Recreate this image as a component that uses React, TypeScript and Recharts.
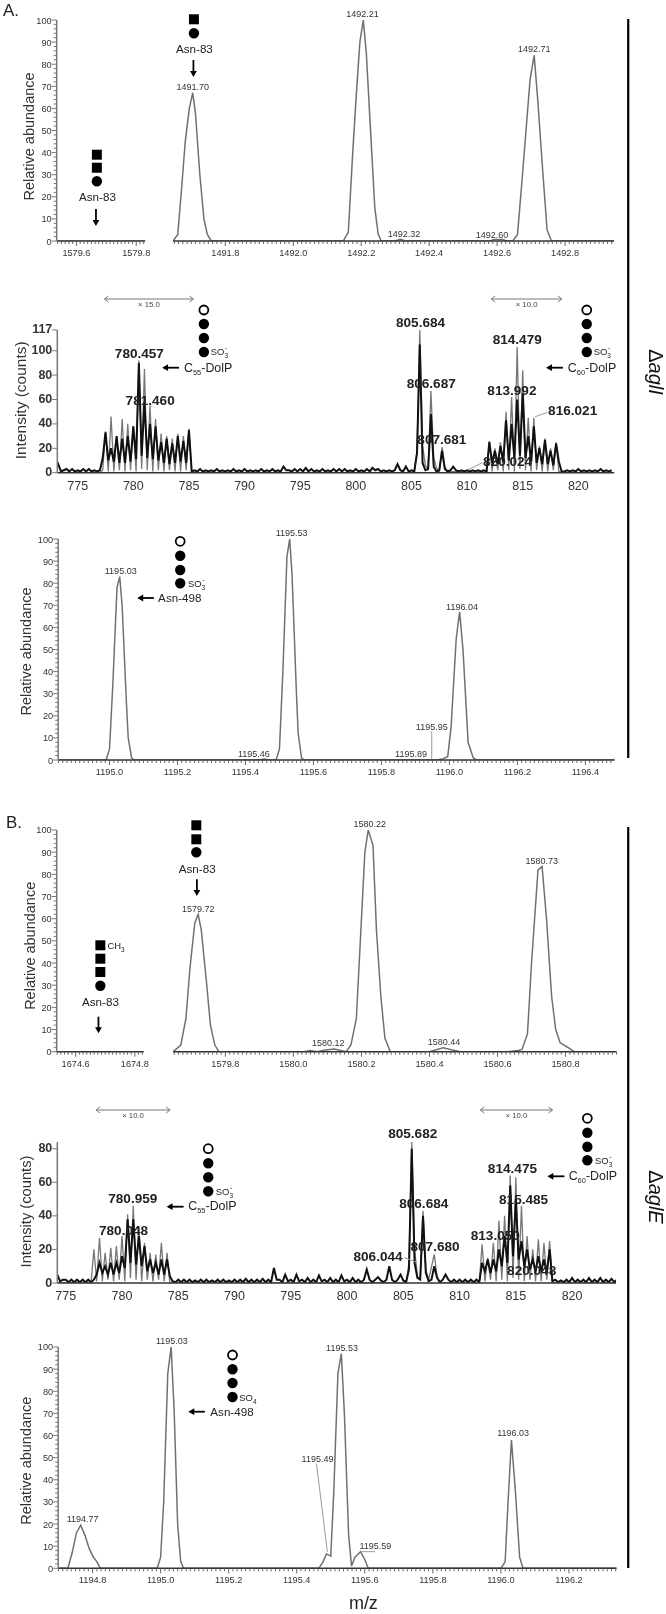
import React from "react";
import { LineChart, Line, XAxis, YAxis, ReferenceDot, ReferenceLine } from "recharts";

const FONT = "'Liberation Sans', Arial, sans-serif";

// panel A, top: glycopeptide isotope envelope
const a1EmptyMz = [1579.53, 1579.83];
const a1EmptyAb = [0, 0];
const a1Mz = [1491.646, 1491.66, 1491.672, 1491.682, 1491.694, 1491.704, 1491.712, 1491.725, 1491.737, 1491.747, 1491.759, 1492.147, 1492.162, 1492.175, 1492.185, 1492.196, 1492.206, 1492.215, 1492.231, 1492.24, 1492.25, 1492.259, 1492.3, 1492.315, 1492.33, 1492.58, 1492.59, 1492.615, 1492.63, 1492.646, 1492.66, 1492.672, 1492.685, 1492.697, 1492.709, 1492.719, 1492.735, 1492.747, 1492.76, 1492.944];
const a1Ab = [0, 3, 25, 45, 60, 67, 58, 30, 10, 3, 0, 0, 4, 40, 65, 90, 100, 85, 40, 15, 3, 0, 0, 0.8, 0, 0, 0.7, 0.7, 0, 0, 3, 25, 50, 73, 84, 65, 30, 5, 0, 0];
const a1Tags = ["1491.70", "1492.21", "1492.71", "1492.32", "1492.60"];
const a1TagMz = [1491.704, 1492.21, 1492.709, 1492.32, 1492.6];
const a1TagAb = [67, 100, 84, 0.8, 0.7];

// panel A, middle: intensity on a 0.25 m/z grid from 773
const a2Black = [
  3, 7, 1, 2, 3, 1, 3, 1, 2, 1, 3, 1, 3, 1, 2, 1, 2, 12, 33, 10,
  20, 9, 30, 8, 28, 8, 30, 9, 38, 11, 90, 14, 58, 12, 40, 11, 38, 10, 25, 8,
  28, 7, 24, 8, 30, 9, 26, 8, 35, 1, 2, 1, 3, 1, 2, 1, 2, 1, 3, 1,
  2, 1, 2, 1, 3, 1, 2, 1, 3, 1, 2, 1, 2, 1, 3, 1, 2, 1, 3, 1,
  2, 1, 5, 2, 2, 1, 3, 1, 3, 1, 4, 1, 3, 1, 2, 1, 3, 1, 2, 1,
  3, 1, 3, 1, 3, 1, 2, 1, 3, 1, 2, 1, 3, 1, 4, 2, 3, 1, 2, 1,
  2, 1, 2, 7, 2, 1, 5, 1, 2, 1, 16, 105, 8, 2, 3, 48, 5, 1, 2, 18,
  3, 1, 2, 5, 2, 1, 2, 1, 2, 1, 2, 1, 2, 1, 2, 1, 25, 8, 18, 7,
  22, 9, 43, 10, 40, 12, 60, 14, 65, 12, 30, 9, 38, 8, 20, 7, 27, 7, 18, 6,
  24, 9, 1, 1, 2, 1, 2, 1, 3, 1, 2, 1, 2, 1, 2, 1, 3, 1, 2, 1, 2,
];
const a2GrayMz = [773, 777, 777.25, 777.5, 777.75, 778, 778.25, 778.5, 778.75, 779, 779.25, 779.5, 779.75, 780, 780.25, 780.5, 780.75, 781, 781.25, 781.5, 781.75, 782, 782.25, 782.5, 782.75, 783, 783.25, 783.5, 783.75, 784, 784.25, 784.5, 784.75, 785, 785.25, 805.25, 805.5, 805.75, 806, 806.25, 806.5, 806.75, 807, 807.25, 807.5, 807.75, 808, 808.25, 811.75, 812, 812.25, 812.5, 812.75, 813, 813.25, 813.5, 813.75, 814, 814.25, 814.5, 814.75, 815, 815.25, 815.5, 815.75, 816, 816.25, 816.5, 816.75, 817, 817.25, 817.5, 817.75, 818, 818.25, 818.5, 823];
const a2Gray = [0, 0, 2, 34, 1, 46, 1, 30, 2, 44, 1, 40, 2, 38, 1, 92, 3, 85, 2, 55, 1, 44, 2, 32, 1, 30, 2, 28, 1, 32, 1, 30, 2, 36, 0, 0, 18, 117, 22, 6, 3, 67, 12, 4, 1, 21, 5, 1, 0, 26, 1, 20, 2, 25, 1, 50, 2, 62, 1, 103, 3, 84, 2, 45, 1, 45, 2, 22, 1, 28, 1, 20, 2, 25, 1, 0, 0];
const a2Tags = ["780.457", "781.460", "805.684", "806.687", "807.681", "814.479", "813.992", "816.021", "820.024"];
const a2TagMz = [780.457, 781.46, 805.684, 806.687, 807.681, 814.479, 813.992, 816.021, 820.024];
const a2TagCounts = [92, 55, 117, 67, 21, 103, 62, 45, 2];

// panel A, bottom
const a3Mz = [1194.849, 1194.99, 1195.0, 1195.01, 1195.022, 1195.03, 1195.037, 1195.05, 1195.055, 1195.065, 1195.072, 1195.44, 1195.455, 1195.47, 1195.49, 1195.5, 1195.51, 1195.522, 1195.53, 1195.537, 1195.55, 1195.555, 1195.565, 1195.572, 1195.96, 1195.98, 1195.995, 1196.005, 1196.02, 1196.03, 1196.04, 1196.055, 1196.07, 1196.08, 1196.486];
const a3Ab = [0, 0, 5, 35, 78, 83, 70, 25, 10, 1, 0, 0, 0.5, 0, 0, 5, 40, 92, 100, 84, 30, 12, 1, 0, 0, 0.5, 1.5, 15, 55, 67, 50, 8, 1, 0, 0];
const a3Tags = ["1195.03", "1195.53", "1196.04", "1195.46", "1195.89", "1195.95"];
const a3TagMz = [1195.03, 1195.53, 1196.04, 1195.46, 1195.89, 1195.948];
const a3TagAb = [83, 100, 67, 0.5, 0.2, 13];

// panel B, top
const b1EmptyMz = [1674.536, 1674.83];
const b1EmptyAb = [0, 0];
const b1Mz = [1579.646, 1579.669, 1579.684, 1579.696, 1579.71, 1579.72, 1579.729, 1579.744, 1579.756, 1579.769, 1579.781, 1580.03, 1580.05, 1580.07, 1580.09, 1580.12, 1580.155, 1580.169, 1580.185, 1580.2, 1580.21, 1580.22, 1580.234, 1580.244, 1580.257, 1580.269, 1580.285, 1580.4, 1580.44, 1580.49, 1580.63, 1580.66, 1580.672, 1580.688, 1580.7, 1580.719, 1580.731, 1580.744, 1580.759, 1580.771, 1580.784, 1580.806, 1580.825, 1580.95];
const b1Ab = [0, 3, 15, 38, 58, 62, 55, 32, 12, 3, 0, 0, 0.5, 0, 0.6, 1.2, 0, 3, 15, 60, 90, 100, 93, 55, 25, 6, 0, 0, 1.8, 0, 0, 0.5, 1, 8, 40, 82, 83.5, 60, 25, 10, 4, 2, 0, 0];
const b1Tags = ["1579.72", "1580.22", "1580.73", "1580.12", "1580.44"];
const b1TagMz = [1579.72, 1580.22, 1580.73, 1580.12, 1580.44];
const b1TagAb = [62, 100, 83.5, 1.2, 1.8];

// panel B, middle: intensity on a 0.25 m/z grid from 774.25
const b2Black = [
  5, 1, 2, 2, 0.5, 2, 0.5, 2, 0.5, 2, 0.5, 2, 0.5, 2, 5,
  12, 6, 10, 5, 12, 5, 12, 6, 16, 9, 38, 12, 38, 11, 28, 10, 22, 7, 14, 6,
  12, 5, 14, 5, 14, 4, 1, 0.5, 2, 0.5, 2, 0.5, 2, 0.5, 1.5, 0.5, 2, 0.5, 2, 0.5,
  1.5, 0.5, 2, 0.5, 2, 0.5, 1.5, 0.5, 2, 0.5, 2, 0.5, 2.5, 0.5, 2, 0.5, 2, 0.5, 2.5, 0.5,
  2, 0.5, 9, 2, 2, 0.5, 5, 1, 2, 0.5, 5, 1, 2, 0.5, 3, 0.5, 2, 0.5, 4.5, 1,
  2, 0.5, 3, 0.5, 2, 0.5, 4.5, 1, 2, 0.5, 3, 0.5, 2, 0.5, 2, 8, 2, 0.5, 2, 3.5,
  1.5, 0.5, 2, 10, 2, 0.5, 2, 5, 1.5, 0.5, 8, 80, 12, 3, 2, 40, 6, 1, 2, 10,
  3, 0.5, 2, 5, 2, 0.5, 2, 0.5, 2, 0.5, 2, 0.5, 2, 0.5, 2, 0.5, 12, 7, 14, 6,
  14, 7, 20, 10, 28, 12, 58, 16, 50, 14, 25, 10, 20, 8, 14, 7, 16, 7, 14, 6,
  20, 1, 2, 0.5, 1.5, 0.5, 2, 0.5, 3, 0.5, 2, 0.5, 2, 0.5, 3, 0.5, 2, 0.5, 3, 0.5,
  2, 0.5, 2.5, 0.5, 2,
];
const b2GrayMz = [774.2, 777.25, 777.5, 777.75, 778, 778.25, 778.5, 778.75, 779, 779.25, 779.5, 779.75, 780, 780.25, 780.5, 780.75, 781, 781.25, 781.5, 781.75, 782, 782.25, 782.5, 782.75, 783, 783.25, 783.5, 783.75, 784, 784.25, 805.25, 805.5, 805.75, 806, 806.25, 806.5, 806.75, 807, 807.25, 807.75, 808, 808.25, 811.75, 812, 812.25, 812.5, 812.75, 813, 813.25, 813.5, 813.75, 814, 814.25, 814.5, 814.75, 815, 815.25, 815.5, 815.75, 816, 816.25, 816.5, 816.75, 817, 817.25, 817.5, 817.75, 818, 818.25, 824];
const b2Gray = [0, 0, 20, 1, 27, 1, 18, 2, 21, 1, 22, 2, 28, 1, 41, 3, 46, 2, 34, 1, 24, 2, 18, 1, 17, 2, 24, 1, 18, 0, 0, 12, 84, 20, 4, 2, 43, 8, 2, 17, 4, 0, 0, 23, 1, 15, 2, 24, 1, 37, 2, 40, 1, 64, 3, 63, 2, 46, 1, 28, 2, 20, 1, 26, 1, 24, 2, 25, 0, 0];
const b2Tags = ["780.959", "780.048", "805.682", "806.684", "807.680", "806.044", "814.475", "815.485", "813.050", "820.048"];
const b2TagMz = [780.959, 780.048, 805.682, 806.684, 807.68, 806.044, 814.475, 815.485, 813.05, 820.048];
const b2TagCounts = [46, 28, 84, 43, 17, 12.5, 64, 46, 24, 2];

// panel B, bottom
const b3Mz = [1194.699, 1194.7275, 1194.74, 1194.7525, 1194.765, 1194.7775, 1194.79, 1194.8025, 1194.8125, 1194.8225, 1194.99, 1195.0, 1195.009, 1195.021, 1195.031, 1195.04, 1195.05, 1195.059, 1195.0675, 1195.465, 1195.4775, 1195.4875, 1195.5, 1195.509, 1195.521, 1195.531, 1195.54, 1195.5525, 1195.561, 1195.571, 1195.5875, 1195.6, 1195.61, 1196.0, 1196.0125, 1196.021, 1196.031, 1196.0425, 1196.055, 1196.065, 1196.34];
const b3Ab = [0, 0, 7, 16, 19.5, 15, 9, 5, 3, 0, 0, 5, 30, 88, 100, 70, 20, 3, 0, 0, 3, 6.5, 5.5, 35, 88, 97, 70, 15, 1, 5, 7.5, 4, 0, 0, 3, 30, 58, 35, 5, 0, 0];
const b3Tags = ["1194.77", "1195.03", "1195.53", "1196.03", "1195.49", "1195.59"];
const b3TagMz = [1194.765, 1195.03, 1195.53, 1196.03, 1195.458, 1195.59];
const b3TagAb = [19.5, 100, 97, 58, 47.3, 7.5];

// axis labels
const abundanceLabels = [0, 10, 20, 30, 40, 50, 60, 70, 80, 90, 100];
const a1LeftLabels = [1579.6, 1579.8];
const a1Labels = [1491.8, 1492.0, 1492.2, 1492.4, 1492.6, 1492.8];
const a2XLabels = [775, 780, 785, 790, 795, 800, 805, 810, 815, 820];
const a2YLabels = [0, 20, 40, 60, 80, 100, 117];
const a3Labels = [1195.0, 1195.2, 1195.4, 1195.6, 1195.8, 1196.0, 1196.2, 1196.4];
const b1LeftLabels = [1674.6, 1674.8];
const b1Labels = [1579.8, 1580.0, 1580.2, 1580.4, 1580.6, 1580.8];
const b2YLabels = [0, 20, 40, 60, 80];
const b3Labels = [1194.8, 1195.0, 1195.2, 1195.4, 1195.6, 1195.8, 1196.0, 1196.2];

const zip = (xs: number[], ys: number[]) => xs.map((x, i) => ({ x, y: ys[i] }));
const grid = (from: number, step: number, ys: number[]) => ys.map((y, i) => ({ x: from + i * step, y }));
const tagsOf = (text: string[], xs: number[], ys: number[], nudge: number[][]) =>
  text.map((t, i) => ({ text: t, x: xs[i], y: ys[i], dx: nudge[i][0], dy: nudge[i][1] }));

// all minor marks for the axis, major ones get a label in the tick renderer
const marks = (lo: number, hi: number, anchor: number, step: number) => {
  const out: number[] = [];
  const first = anchor - Math.floor((anchor - lo) / step) * step;
  for (let v = first; v <= hi + 1e-9; v += step) out.push(v);
  return out;
};
const isMajor = (labels: number[], v: number) => labels.some((m) => Math.abs(m - v) < 1e-6);

type Plot = { left: number; right: number; top: number; bottom: number };

type SpectrumProps = {
  plot: Plot;
  xDomain: number[];
  xTicks: number[];
  xLabels: number[];
  xDigits: number;
  xFont?: any;
  xMinor?: boolean;
  yTop: number;
  yTicks?: number[];
  yLabels?: number[];
  yFont?: any;
  lines: { data: { x: number; y: number }[]; stroke: string; width: number }[];
  tags: { text: string; x: number; y: number; dx: number; dy: number }[];
  tagFont: any;
  leaders?: number[][];
  yTitle?: string;
  titleX?: number;
  titleDy?: number;
  titleSize?: number;
  xTitle?: boolean;
};

function Spectrum(p: SpectrumProps) {
  const chartTop = Math.max(0, p.plot.top - 22);
  const marginTop = p.plot.top - chartTop;
  const axisH = p.xTitle ? 46 : 24;
  const height = marginTop + (p.plot.bottom - p.plot.top) + axisH;
  const axisW = 46;
  const hasY = !!p.yTicks;
  const marginLeft = hasY ? p.plot.left - axisW : p.plot.left;
  const xFont = p.xFont || { fontSize: 9.2, fill: "#333" };
  const yFont = p.yFont || { fontSize: 9.2, fill: "#333" };

  const XTick = (t: any) => {
    const major = isMajor(p.xLabels, t.payload.value);
    return (
      <g>
        {p.xMinor !== false && (
          <line x1={t.x} x2={t.x} y1={t.y} y2={t.y + (major ? 5 : 3)} stroke="#555" strokeWidth={0.9} />
        )}
        {major && (
          <text x={t.x} y={t.y + (p.xMinor === false ? 17 : 15)} textAnchor="middle" fontFamily={FONT} {...xFont}>
            {t.payload.value.toFixed(p.xDigits)}
          </text>
        )}
      </g>
    );
  };
  const YTick = (t: any) => {
    const major = isMajor(p.yLabels || [], t.payload.value);
    return (
      <g>
        <line x1={t.x} x2={t.x - (major ? 5 : 3)} y1={t.y} y2={t.y} stroke="#777" strokeWidth={1} />
        {major && (
          <text x={t.x - 5} y={t.y + 3.5} textAnchor="end" fontFamily={FONT} {...yFont}>
            {t.payload.value}
          </text>
        )}
      </g>
    );
  };

  return (
    <div style={{ position: "absolute", left: 0, top: chartTop }}>
      <LineChart
        width={666}
        height={height}
        margin={{ top: marginTop, left: marginLeft, right: 666 - p.plot.right, bottom: 0 }}
      >
        <XAxis
          dataKey="x"
          type="number"
          scale="linear"
          domain={p.xDomain}
          allowDataOverflow
          ticks={p.xTicks}
          interval={0}
          height={axisH}
          tickSize={0}
          tickMargin={0}
          tick={<XTick />}
          axisLine={{ stroke: "#333", strokeWidth: 1.6 }}
          label={
            p.xTitle
              ? { value: "m/z", position: "insideBottom", dx: 26, dy: 0, style: { fontFamily: FONT, fontSize: 18, fill: "#222" } }
              : undefined
          }
        />
        <YAxis
          dataKey="y"
          type="number"
          hide={!hasY}
          width={axisW}
          domain={[0, p.yTop]}
          allowDataOverflow
          ticks={p.yTicks}
          interval={0}
          tickSize={0}
          tickMargin={0}
          tick={<YTick />}
          axisLine={{ stroke: "#777", strokeWidth: 1.5 }}
          label={
            p.yTitle
              ? {
                  value: p.yTitle,
                  angle: -90,
                  position: "insideLeft",
                  textAnchor: "middle",
                  offset: (p.titleX || 0) - marginLeft,
                  dy: p.titleDy || 0,
                  style: { fontFamily: FONT, fontSize: p.titleSize || 14.5, fill: "#333", textAnchor: "middle" },
                }
              : undefined
          }
        />
        {p.lines.map((l, i) => (
          <Line
            key={i}
            data={l.data}
            dataKey="y"
            type="linear"
            stroke={l.stroke}
            strokeWidth={l.width}
            dot={false}
            activeDot={false}
            isAnimationActive={false}
          />
        ))}
        {(p.leaders || []).map((s, i) => (
          <ReferenceLine
            key={i}
            segment={[{ x: s[0], y: s[1] }, { x: s[2], y: s[3] }]}
            stroke="#999"
            strokeWidth={1}
            ifOverflow="visible"
          />
        ))}
        {p.tags.map((t, i) => (
          <ReferenceDot
            key={i}
            x={t.x}
            y={t.y}
            r={0}
            ifOverflow="visible"
            shape={(d: any) => (
              <text x={d.cx + t.dx} y={d.cy + t.dy} textAnchor="middle" fontFamily={FONT} {...p.tagFont}>
                {t.text}
              </text>
            )}
          />
        ))}
      </LineChart>
    </div>
  );
}

const peakFont = { fontSize: 9, fill: "#333" };
const boldFont = { fontSize: 13.6, fontWeight: 700, fill: "#222" };
const profileLine = "#707070";
const countTickFont = { fontSize: 12.5, fill: "#333" };
const countYFont = { fontSize: 12.5, fontWeight: 700, fill: "#333" };

// glycan cartoons and notes
const Sq = ({ x, y }: any) => <rect x={x - 5} y={y - 5} width={10} height={10} fill="#000" />;
const Dot = ({ x, y }: any) => <circle cx={x} cy={y} r={5.2} fill="#000" />;
const Ring = ({ x, y }: any) => <circle cx={x} cy={y} r={4.5} fill="#fff" stroke="#000" strokeWidth={1.8} />;
const Note = ({ x, y, size = 11.7, anchor = "start", children }: any) => (
  <text x={x} y={y} fontFamily={FONT} fontSize={size} textAnchor={anchor} fill="#222">
    {children}
  </text>
);
const Down = ({ x, y1, y2 }: any) => (
  <g>
    <line x1={x} x2={x} y1={y1} y2={y2 - 5} stroke="#000" strokeWidth={1.8} />
    <polygon points={`${x - 3.4},${y2 - 6} ${x + 3.4},${y2 - 6} ${x},${y2}`} fill="#000" />
  </g>
);
const Left = ({ x1, x2, y }: any) => (
  <g>
    <line x1={x1 + 5} x2={x2} y1={y} y2={y} stroke="#000" strokeWidth={1.8} />
    <polygon points={`${x1},${y} ${x1 + 6},${y - 3.4} ${x1 + 6},${y + 3.4}`} fill="#000" />
  </g>
);
const Span = ({ x1, x2, y, text }: any) => (
  <g stroke="#777" strokeWidth={1} fill="none">
    <line x1={x1} x2={x2} y1={y} y2={y} />
    <polyline points={`${x1 + 4},${y - 3} ${x1},${y} ${x1 + 4},${y + 3}`} />
    <polyline points={`${x2 - 4},${y - 3} ${x2},${y} ${x2 - 4},${y + 3}`} />
    <text x={(x1 + x2) / 2} y={y + 8.5} stroke="none" fill="#444" textAnchor="middle" fontFamily={FONT} fontSize={7.8}>
      {text}
    </text>
  </g>
);
const Sulfate = ({ x, y, text = "SO", sub = "3", sup = "-" }: any) => (
  <text x={x} y={y} fontFamily={FONT} fontSize={9.5} fill="#222">
    {text}
    <tspan fontSize={6.5} dy={3}>{sub}</tspan>
    {sup && <tspan fontSize={7} dy={-8} dx={-3}>{sup}</tspan>}
  </text>
);
const Dolp = ({ x, y, n }: any) => (
  <text x={x} y={y} fontFamily={FONT} fontSize={12.5} fill="#222">
    C<tspan fontSize={7.5} dy={3}>{n}</tspan>
    <tspan dy={-3}>-DolP</tspan>
  </text>
);
const Chain = ({ x, ys }: any) => (
  <g>
    <Ring x={x} y={ys[0]} />
    <Dot x={x} y={ys[1]} />
    <Dot x={x} y={ys[2]} />
    <Dot x={x} y={ys[3]} />
  </g>
);
const Mutant = ({ x, y, size, name }: any) => (
  <text transform={`translate(${x},${y}) rotate(90)`} textAnchor="middle" fontFamily={FONT} fontSize={size} fill="#111">
    Δ<tspan fontStyle="italic">{name}</tspan>
  </text>
);

function Overlay() {
  return (
    <svg width={666} height={1614} style={{ position: "absolute", left: 0, top: 0 }}>
      <g transform="scale(0.9945 1)">
        <Note x={3} y={16} size={17}>A.</Note>
        <Note x={6} y={828} size={17}>B.</Note>
        <rect x={630.6} y={19} width={2.2} height={739} fill="#000" />
        <rect x={630.6} y={827} width={2.2} height={741} fill="#000" />
        <Mutant x={652.6} y={372} size={20} name="aglI" />
        <Mutant x={652.6} y={1197} size={20} name="aglE" />

        {/* A top */}
        <Sq x={97.4} y={154.7} /><Sq x={97.4} y={167.7} /><Dot x={97.4} y={181.3} />
        <Note x={98} y={201.5} anchor="middle">Asn-83</Note>
        <Down x={96.5} y1={209} y2={226} />
        <Sq x={195} y={19.3} /><Dot x={195} y={33.3} />
        <Note x={195.5} y={53.5} anchor="middle">Asn-83</Note>
        <Down x={194.5} y1={60} y2={77} />

        {/* A middle */}
        <Span x1={105} x2={194.5} y={299} text="× 15.0" />
        <Span x1={494} x2={565} y={299} text="× 10.0" />
        <Chain x={205} ys={[310, 324, 338, 352]} />
        <Sulfate x={212} y={355} />
        <Left x1={163} x2={180} y={367.7} />
        <Dolp x={185} y={372} n="55" />
        <Chain x={590} ys={[310, 324, 338, 352]} />
        <Sulfate x={597} y={355} />
        <Left x1={549} x2={566} y={367.7} />
        <Dolp x={571} y={372} n="60" />

        {/* A bottom */}
        <Chain x={181.2} ys={[541.3, 555.7, 570, 583.3]} />
        <Sulfate x={189} y={587.3} />
        <Left x1={138} x2={154.7} y={598} />
        <Note x={159} y={602}>Asn-498</Note>

        {/* B top */}
        <Sq x={100.9} y={945.3} /><Sq x={100.9} y={958.7} /><Sq x={100.9} y={972} /><Dot x={100.9} y={985.7} />
        <Sulfate x={108} y={949.3} text="CH" sub="3" sup="" />
        <Note x={101} y={1006} anchor="middle">Asn-83</Note>
        <Down x={99} y1={1016.7} y2={1033.3} />
        <Sq x={197.4} y={825.3} /><Sq x={197.4} y={839.3} /><Dot x={197.4} y={852.3} />
        <Note x={198.3} y={873} anchor="middle">Asn-83</Note>
        <Down x={198} y1={879.3} y2={896} />

        {/* B middle */}
        <Span x1={96.6} x2={171} y={1110} text="× 10.0" />
        <Span x1={483} x2={555.6} y={1110} text="× 10.0" />
        <Chain x={209.4} ys={[1148.7, 1163.3, 1177.3, 1191.3]} />
        <Sulfate x={217} y={1195.3} />
        <Left x1={167.5} x2={184.6} y={1206.7} />
        <Dolp x={189.3} y={1210} n="55" />
        <Chain x={590.6} ys={[1118.3, 1132.7, 1146.7, 1160.3]} />
        <Sulfate x={598.3} y={1164.3} />
        <Left x1={550.4} x2={567.5} y={1176.3} />
        <Dolp x={571.8} y={1179.7} n="60" />

        {/* B bottom */}
        <Chain x={233.8} ys={[1355, 1369.3, 1383, 1397]} />
        <Sulfate x={240.6} y={1400.7} sub="4" sup="" />
        <Left x1={189.3} x2={206} y={1411.7} />
        <Note x={211.5} y={1415.7}>Asn-498</Note>
      </g>
    </svg>
  );
}

const abundanceTicks = marks(0, 100, 0, 2);

export default function App() {
  return (
    <div style={{ position: "absolute", left: 0, top: 0, width: 666, height: 1614, overflow: "hidden", background: "#fff", filter: "blur(0.5px)" }}>
      {/* A top */}
      <Spectrum
        plot={{ left: 56.7, right: 145.2, top: 20, bottom: 241 }}
        xDomain={[1579.534, 1579.83]}
        xTicks={marks(1579.534, 1579.83, 1579.6, 0.0125)}
        xLabels={a1LeftLabels}
        xDigits={1}
        yTop={100}
        yTicks={abundanceTicks}
        yLabels={abundanceLabels}
        lines={[{ data: zip(a1EmptyMz, a1EmptyAb), stroke: profileLine, width: 1 }]}
        tags={[]}
        tagFont={peakFont}
        yTitle="Relative abundance"
        titleX={29}
        titleDy={6}
      />
      <Spectrum
        plot={{ left: 173, right: 614, top: 20, bottom: 241 }}
        xDomain={[1491.646, 1492.944]}
        xTicks={marks(1491.646, 1492.944, 1491.8, 0.0125)}
        xLabels={a1Labels}
        xDigits={1}
        yTop={100}
        lines={[{ data: zip(a1Mz, a1Ab), stroke: profileLine, width: 1.5 }]}
        tags={tagsOf(a1Tags, a1TagMz, a1TagAb, [[0, -3], [-2, -3], [0, -3], [2, -2], [-5, -1]])}
        tagFont={peakFont}
      />

      {/* A middle */}
      <Spectrum
        plot={{ left: 57.3, right: 614.3, top: 330, bottom: 472.7 }}
        xDomain={[773.17, 823.23]}
        xTicks={a2XLabels}
        xLabels={a2XLabels}
        xDigits={0}
        xMinor={false}
        xFont={countTickFont}
        yTop={117}
        yTicks={a2YLabels}
        yLabels={a2YLabels}
        yFont={countYFont}
        lines={[
          { data: zip(a2GrayMz, a2Gray), stroke: "#777", width: 1.3 },
          { data: grid(773, 0.25, a2Black), stroke: "#111", width: 2 },
        ]}
        tags={tagsOf(a2Tags, a2TagMz, a2TagCounts, [[1, -2], [0.6, -1], [1.5, -3], [1, -3], [0.6, -3], [0.3, -3], [0.4, -2.5], [38.6, -2.7], [-71, -4]])}
        tagFont={boldFont}
        leaders={[[816.1, 45.8, 817.2, 49.4], [810.03, 2.2, 811.37, 8.2]]}
        yTitle="Intensity (counts)"
        titleX={20}
        titleDy={-1}
        titleSize={15.5}
      />

      {/* A bottom */}
      <Spectrum
        plot={{ left: 58.2, right: 614.6, top: 539, bottom: 760 }}
        xDomain={[1194.849, 1196.486]}
        xTicks={marks(1194.849, 1196.486, 1195.0, 0.0125)}
        xLabels={a3Labels}
        xDigits={1}
        yTop={100}
        yTicks={abundanceTicks}
        yLabels={abundanceLabels}
        lines={[{ data: zip(a3Mz, a3Ab), stroke: profileLine, width: 1.5 }]}
        tags={tagsOf(a3Tags, a3TagMz, a3TagAb, [[1, -3], [2, -3], [-1, -2], [-12, -2], [-1, -3], [0, -1]])}
        tagFont={peakFont}
        leaders={[[1195.948, 0.5, 1195.948, 13]]}
        yTitle="Relative abundance"
        titleX={25.6}
        titleDy={2}
      />

      {/* B top */}
      <Spectrum
        plot={{ left: 56.7, right: 143.7, top: 830, bottom: 1051.7 }}
        xDomain={[1674.536, 1674.83]}
        xTicks={marks(1674.536, 1674.83, 1674.6, 0.0125)}
        xLabels={b1LeftLabels}
        xDigits={1}
        yTop={100}
        yTicks={abundanceTicks}
        yLabels={abundanceLabels}
        lines={[{ data: zip(b1EmptyMz, b1EmptyAb), stroke: profileLine, width: 1 }]}
        tags={[]}
        tagFont={peakFont}
        yTitle="Relative abundance"
        titleX={30}
        titleDy={5}
      />
      <Spectrum
        plot={{ left: 173, right: 616.6, top: 830, bottom: 1051.7 }}
        xDomain={[1579.646, 1580.95]}
        xTicks={marks(1579.646, 1580.95, 1579.8, 0.0125)}
        xLabels={b1Labels}
        xDigits={1}
        yTop={100}
        lines={[{ data: zip(b1Mz, b1Ab), stroke: profileLine, width: 1.5 }]}
        tags={tagsOf(b1Tags, b1TagMz, b1TagAb, [[0, -2.5], [1.5, -3], [0, -3], [-6, -3], [1, -3]])}
        tagFont={peakFont}
      />

      {/* B middle */}
      <Spectrum
        plot={{ left: 57.3, right: 616, top: 1141.7, bottom: 1282.7 }}
        xDomain={[774.25, 823.9]}
        xTicks={a2XLabels}
        xLabels={a2XLabels}
        xDigits={0}
        xMinor={false}
        xFont={countTickFont}
        yTop={84}
        yTicks={b2YLabels}
        yLabels={b2YLabels}
        yFont={countYFont}
        lines={[
          { data: zip(b2GrayMz, b2Gray), stroke: "#777", width: 1.3 },
          { data: grid(774.25, 0.25, b2Black), stroke: "#111", width: 2 },
        ]}
        tags={tagsOf(b2Tags, b2TagMz, b2TagCounts, [[0, -3], [1, -1], [1.7, -4], [1.5, -3], [1.6, -3], [-37, -1.5], [2.5, -3], [2.3, -2], [1.4, -3], [-41, -5]])}
        tagFont={boldFont}
        leaders={[[805.09, 15.1, 806.13, 12.5]]}
        yTitle="Intensity (counts)"
        titleX={25.6}
        titleDy={-1}
        titleSize={14.7}
      />

      {/* B bottom */}
      <Spectrum
        plot={{ left: 58.2, right: 616.6, top: 1346.7, bottom: 1568 }}
        xDomain={[1194.699, 1196.34]}
        xTicks={marks(1194.699, 1196.34, 1195.0, 0.0125)}
        xLabels={b3Labels}
        xDigits={1}
        yTop={100}
        yTicks={abundanceTicks}
        yLabels={abundanceLabels}
        lines={[{ data: zip(b3Mz, b3Ab), stroke: profileLine, width: 1.5 }]}
        tags={tagsOf(b3Tags, b3TagMz, b3TagAb, [[2, -3], [1, -3], [1, -3], [2, -3.5], [1, -2], [14, -3]])}
        tagFont={peakFont}
        leaders={[[1195.458, 47.3, 1195.49, 7.5], [1195.59, 7.5, 1195.63, 7.5]]}
        yTitle="Relative abundance"
        titleX={25.6}
        titleDy={3}
        xTitle
      />

      <Overlay />
    </div>
  );
}
